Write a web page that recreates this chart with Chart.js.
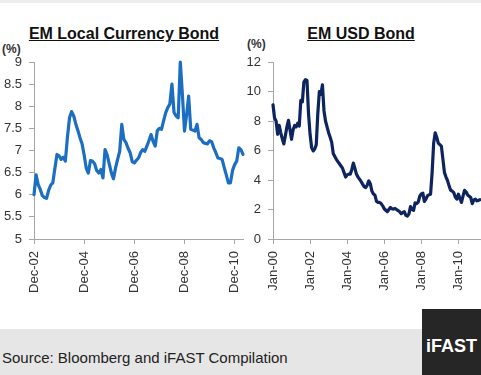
<!DOCTYPE html>
<html>
<head>
<meta charset="utf-8">
<script src="https://cdn.jsdelivr.net/npm/chart.js@4.4.0/dist/chart.umd.min.js"></script>
<style>
  body { margin: 0; width: 481px; height: 375px; position: relative; overflow: hidden; background: #fff; font-family: "Liberation Sans", Arial, sans-serif; }
  .topline { position: absolute; left: 0; top: 0; width: 481px; height: 3px; background: #ececec; }
  .title { position: absolute; top: 25px; font-weight: bold; font-size: 16px; text-decoration: underline; color: #111; white-space: nowrap; text-align: center; }
  .unit { position: absolute; font-size: 12px; font-weight: bold; color: #333; }
  canvas { position: absolute; top: 0; }
  .footer { position: absolute; left: 0; top: 329px; width: 422px; height: 46px; background: #e6e6e6; }
  .source { position: absolute; left: 2px; top: 349px; font-size: 15px; color: #222; white-space: nowrap; }
  .logo { position: absolute; left: 422px; top: 309px; width: 59px; height: 66px; background: #262626; color: #fff; font-weight: bold; font-size: 18px; text-align: center; line-height: 18px; padding-top: 28px; box-sizing: border-box; }
</style>
</head>
<body>
<div class="topline"></div>
<div class="title" style="left:0; width:248px;">EM Local Currency Bond</div>
<div class="title" style="left:250px; width:222px;">EM USD Bond</div>
<div class="unit" style="left:2px; top:42px;">(%)</div>
<div class="unit" style="left:247px; top:37px;">(%)</div>
<canvas id="localChart" width="250" height="310" style="left:0;"></canvas>
<canvas id="usdChart" width="245" height="310" style="left:236px;"></canvas>
<div class="footer"></div>
<div class="source">Source: Bloomberg and iFAST Compilation</div>
<div class="logo">iFAST</div>
<script>
// EM local currency bond yield, monthly from Dec-02
const localYield = [
  6.00, 6.45, 6.23, 6.12, 5.98, 5.94, 5.92, 6.10, 6.22, 6.27,
  6.60, 6.91, 6.88, 6.80, 6.85, 6.76, 7.30, 7.74, 7.88, 7.78,
  7.60, 7.45, 7.29, 7.15, 6.90, 6.60, 6.49, 6.77, 6.76, 6.70,
  6.55, 6.49, 6.57, 6.38, 7.02, 6.90, 6.70, 6.50, 6.36, 6.60,
  6.80, 6.98, 7.59, 7.25, 7.18, 7.05, 6.95, 6.75, 6.72, 6.78,
  6.83, 6.95, 7.02, 6.98, 7.10, 7.22, 7.36, 7.20, 7.10, 7.45,
  7.50, 7.48, 7.67, 7.85, 7.97, 8.05, 8.50, 7.86, 7.78, 7.74,
  9.00, 8.27, 7.44, 7.80, 8.23, 7.48, 7.46, 7.44, 7.59, 7.29,
  7.25, 7.18, 7.16, 7.15, 7.22, 7.20, 7.06, 6.95, 6.83, 6.82,
  6.80, 6.62, 6.45, 6.27, 6.27, 6.55, 6.68, 6.76, 7.06, 7.02,
  6.91
];

// EM USD bond yield, monthly from Jan-00
const usdYield = [
  9.10, 8.20, 8.00, 7.10, 7.70, 7.20, 6.80, 6.45, 7.00, 7.60,
  8.05, 7.40, 6.76, 7.40, 7.70, 7.60, 7.85, 7.66, 9.40, 9.30,
  10.65, 10.80, 10.75, 8.50, 7.10, 6.20, 5.97, 6.10, 6.40, 8.50,
  10.00, 9.80, 10.45, 8.70, 8.00, 7.60, 7.21, 6.90, 6.55, 5.80,
  5.60, 5.40, 5.25, 5.10, 4.95, 4.80, 4.50, 4.20, 4.35, 4.40,
  4.40, 4.70, 5.15, 4.80, 4.40, 4.20, 4.06, 3.90, 3.72, 3.55,
  3.49, 3.65, 3.94, 3.75, 3.25, 3.05, 2.98, 2.55, 2.48, 2.48,
  2.40, 2.25, 2.05, 1.95, 1.85, 2.00, 2.14, 2.05, 2.03, 2.07,
  2.00, 1.92, 1.85, 1.72, 1.80, 1.85, 1.60, 1.55, 1.70, 2.20,
  2.00, 1.95, 2.45, 2.40, 2.50, 2.90, 3.05, 3.10, 2.55, 2.70,
  2.93, 3.00, 3.04, 4.50, 6.50, 7.20, 6.90, 6.50, 6.40, 6.30,
  5.40, 4.50, 4.20, 3.95, 3.60, 3.30, 3.25, 3.15, 2.85, 2.70,
  3.04, 2.75, 2.48, 2.90, 3.30, 3.20, 2.98, 2.90, 2.81, 2.40,
  2.65, 2.70, 2.59, 2.62, 2.66
];

const monthNames = ['Jan','Feb','Mar','Apr','May','Jun','Jul','Aug','Sep','Oct','Nov','Dec'];
function monthLabels(startYear, startMonth, count) {
  const out = [];
  for (let i = 0; i < count; i++) {
    const m = startMonth + i;
    const y = startYear + Math.floor(m / 12);
    out.push(monthNames[m % 12] + '-' + String(y % 100).padStart(2, '0'));
  }
  return out;
}
const localMonths = monthLabels(2002, 11, localYield.length);
const usdMonths = monthLabels(2000, 0, usdYield.length);
const localTicks = ['Dec-02', 'Dec-04', 'Dec-06', 'Dec-08', 'Dec-10'];
const usdTicks = ['Jan-00', 'Jan-02', 'Jan-04', 'Jan-06', 'Jan-08', 'Jan-10'];

const font = { family: '"Liberation Sans", Arial, sans-serif', size: 13 };
const axisColor = '#a6a6a6';

function makeChart(id, labels, values, tickList, color, yMin, yMax, step, yWidth, padRight) {
  new Chart(document.getElementById(id), {
    type: 'line',
    data: {
      labels: labels,
      datasets: [{
        data: values,
        borderColor: color,
        borderWidth: 3.2,
        borderJoinStyle: 'round',
        borderCapStyle: 'round',
        pointRadius: 0,
        tension: 0,
        clip: 5,
      }],
    },
    options: {
      responsive: false,
      animation: false,
      layout: { padding: { top: 62, right: padRight, left: 0, bottom: 0 } },
      plugins: { legend: { display: false }, tooltip: { enabled: false } },
      scales: {
        x: {
          grid: { drawOnChartArea: false, tickLength: 5, color: axisColor },
          border: { color: axisColor },
          ticks: {
            autoSkip: false,
            minRotation: 90,
            maxRotation: 90,
            padding: 7,
            color: '#333',
            font: font,
            callback: (v, i) => tickList.includes(labels[i]) ? labels[i] : null,
          },
          afterFit: (s) => { s.height = 71; s.paddingLeft = 0; s.paddingRight = 0; },
        },
        y: {
          min: yMin,
          max: yMax,
          grid: { drawOnChartArea: false, tickLength: 5, color: axisColor },
          border: { color: axisColor },
          ticks: {
            stepSize: step,
            padding: 7,
            color: '#333',
            font: font,
            callback: (v) => String(v),
          },
          afterFit: (s) => { s.width = yWidth; s.paddingTop = 0; s.paddingBottom = 0; },
        },
      },
    },
  });
}

makeChart('localChart', localMonths, localYield, localTicks, '#1b6ec2', 5, 9, 0.5, 34, 7);
makeChart('usdChart', usdMonths, usdYield, usdTicks, '#0e245e', 0, 12, 2, 37, 1);
</script>
</body>
</html>
